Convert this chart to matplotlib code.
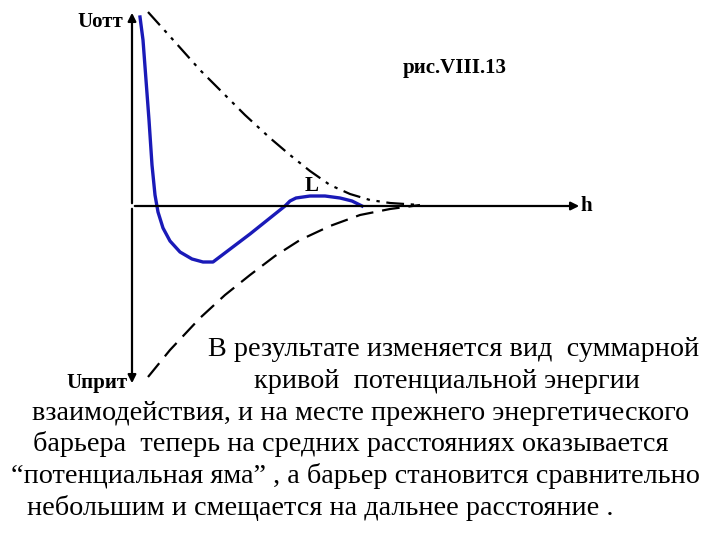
import matplotlib.pyplot as plt

plt.rcParams["font.family"] = ["Liberation Serif", "DejaVu Serif"]

# curves (pixel-like coordinates, y grows downward)
upper_x = [148, 175, 200, 220, 245, 270, 290, 310, 330, 350, 370, 390, 420]
upper_y = [12, 42, 70, 90, 115, 138, 155, 171, 185, 194, 200, 203, 205]
lower_x = [148, 170, 200, 225, 250, 275, 300, 330, 360, 390, 420]
lower_y = [377, 350, 318, 295, 275, 256, 240, 226, 215, 209, 205]
blue_x = [140, 143, 146, 149, 152, 155, 158, 163, 170, 180, 192, 203, 213, 250, 285, 290, 296, 310, 325, 340, 352, 362]
blue_y = [17, 40, 80, 120, 165, 195, 212, 228, 241, 252, 259, 262, 262, 234, 206, 201, 198, 196, 196, 198, 201, 206]

text_lines = [
    "В результате изменяется вид  суммарной",
    "кривой  потенциальной энергии",
    "взаимодействия, и на месте прежнего энергетического",
    "барьера  теперь на средних расстояниях оказывается",
    "“потенциальная яма” , а барьер становится сравнительно",
    "небольшим и смещается на дальнее расстояние .",
]
text_cx = [454, 447, 361, 351, 355, 320]
text_y = [350, 382, 413, 444, 476, 508]

fig = plt.figure(figsize=(7.2, 5.4), dpi=100)
ax = fig.add_axes([0, 0, 1, 1])
ax.set_xlim(0, 720)
ax.set_ylim(540, 0)
ax.axis("off")

arrow = dict(arrowstyle="-|>", color="black", lw=1.6, mutation_scale=12)
ax.annotate("", xy=(132, 10), xytext=(132, 206), arrowprops=arrow)
ax.annotate("", xy=(132, 386), xytext=(132, 206), arrowprops=arrow)
ax.annotate("", xy=(582, 206), xytext=(132, 206), arrowprops=arrow)

ax.plot(upper_x, upper_y, color="black", lw=1.6, dashes=(8, 3, 1.5, 3, 1.5, 3))
ax.plot(lower_x, lower_y, color="black", lw=1.6, dashes=(8, 4))
ax.plot(blue_x, blue_y, color="#1a1ab8", lw=2.4)

ax.text(123, 22, "Uотт", ha="right", va="center", fontsize=15, fontweight="bold")
ax.text(128, 383, "Uприт", ha="right", va="center", fontsize=15, fontweight="bold")
ax.text(580, 206, "h", ha="left", va="center", fontsize=15, fontweight="bold")
ax.text(455, 68, "рис.VIII.13", ha="center", va="center", fontsize=15, fontweight="bold")
ax.text(312, 186, "L", ha="center", va="center", fontsize=15, fontweight="bold")

for s, cx, y in zip(text_lines, text_cx, text_y):
    ax.text(cx, y, s, ha="center", va="center", fontsize=20.3)

fig.savefig("out.png", dpi=100)
